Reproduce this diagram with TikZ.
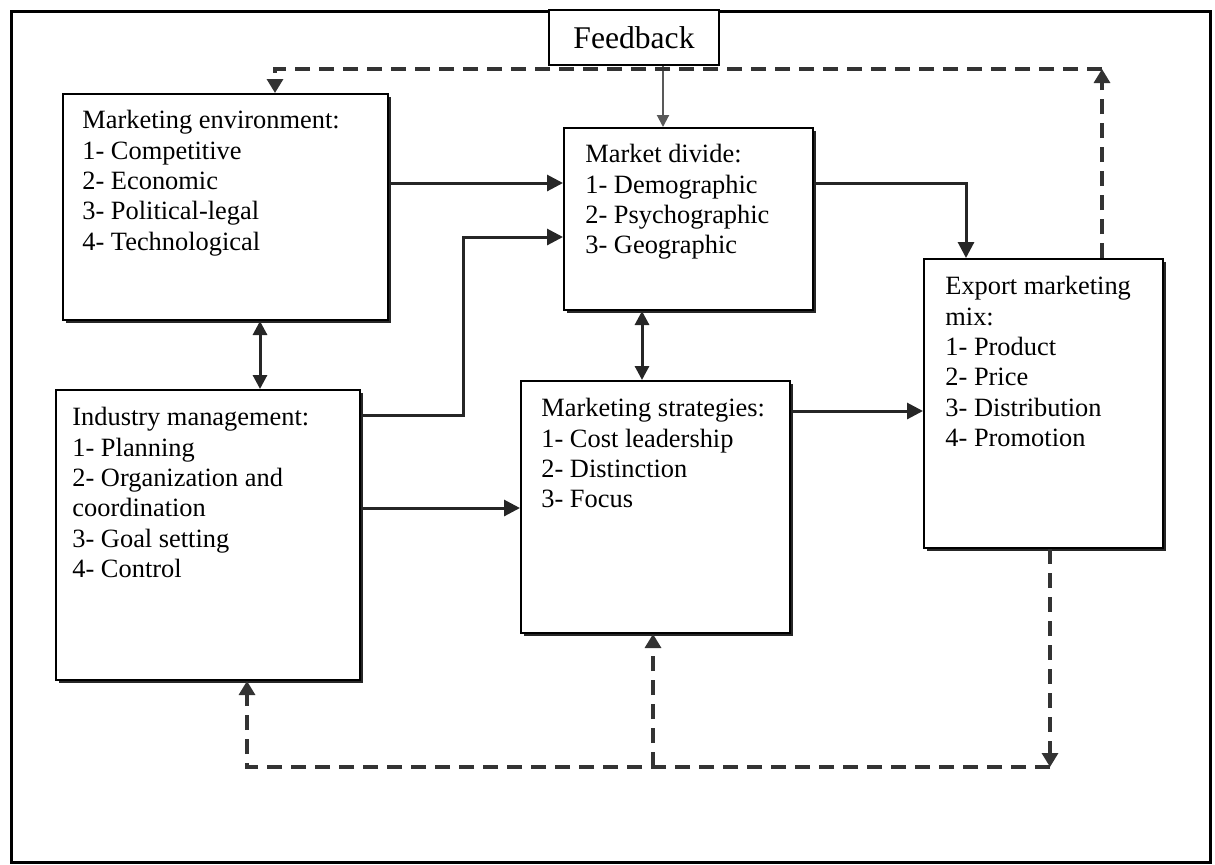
\documentclass[tikz,border=0pt]{standalone}
\usepackage{fontspec}
\setmainfont{Liberation Serif}
\usetikzlibrary{arrows.meta,fit,shadows}
\tikzset{
  box/.style={draw,line width=1pt,fill=white,inner sep=0pt,
    drop shadow={shadow xshift=1.5pt,shadow yshift=-1.5pt,fill=black!85,opacity=1}},
  txt/.style={font=\fontsize{13.2}{15.2}\selectfont,align=left,inner sep=0pt,anchor=north west},
  arr/.style={line width=1.5pt,draw=black!85,-{Triangle[length=8pt,width=8pt]}},
  both/.style={line width=1.5pt,draw=black!85,{Triangle[length=7pt,width=7pt]}-{Triangle[length=7pt,width=7pt]}},
  back/.style={line width=1.6pt,draw=black!80,dash pattern=on 7.5pt off 4.5pt},
  tip/.style={-{Triangle[length=7pt,width=8pt]}}
}
\begin{document}
\begin{tikzpicture}[x=0.5pt,y=-0.5pt]
      \useasboundingbox (0,0) rectangle (1215,864);
      \draw[line width=1.5pt] (11,11) rectangle (1210,862);

      \node[box,fit={(63,94) (388,320)}] (env) {};
      \node[box,fit={(564,128) (813,310)}] (divide) {};
      \node[box,fit={(56,390) (360,680)}] (ind) {};
      \node[box,fit={(521,381) (790,633)}] (strat) {};
      \node[box,fit={(924,259) (1163,548)}] (export) {};
      \node[draw,line width=1pt,fill=white,inner sep=0pt,minimum width=85pt,minimum height=27.5pt,
        font=\fontsize{15.8}{18}\selectfont] (fb) at (634,37.5) {Feedback};

      \node[txt] (envtxt) at ([shift={(10pt,-8.5pt)}]env.north west)
        {Marketing environment:\\1- Competitive\\2- Economic\\3- Political-legal\\4- Technological};
      \node[txt] (dividetxt) at ([shift={(11pt,-8.5pt)}]divide.north west)
        {Market divide:\\1- Demographic\\2- Psychographic\\3- Geographic};
      \node[txt] (indtxt) at ([shift={(8.5pt,-9pt)}]ind.north west)
        {Industry management:\\1- Planning\\2- Organization and\\coordination\\3- Goal setting\\4- Control};
      \node[txt] (strattxt) at ([shift={(10.5pt,-9pt)}]strat.north west)
        {Marketing strategies:\\1- Cost leadership\\2- Distinction\\3- Focus};
      \node[txt] (exporttxt) at ([shift={(11pt,-9pt)}]export.north west)
        {Export marketing\\mix:\\1- Product\\2- Price\\3- Distribution\\4- Promotion};

      \coordinate (fbx) at (663,0);
      \coordinate (bend) at (463,237);
      \coordinate (tr) at (1102,69);
      \coordinate (tl) at (275,69);
      \coordinate (bl) at (247,767);
      \coordinate (bm) at (653,767);
      \coordinate (br) at (1050,767);

      \begin{scope}[arr]
        \draw (env.east |- 0,183) -- (divide.west |- 0,183);
        \draw (ind.east |- 0,415) -| (bend) -- (divide.west |- bend);
        \draw (ind.east |- 0,508) -- (strat.west |- 0,508);
        \draw (divide.east |- 0,183) -| (export.north -| 966,0);
        \draw (strat.east |- 0,411) -- (export.west |- 0,411);
      \end{scope}
      \draw[both] (env.south -| 260,0) -- (ind.north -| 260,0);
      \draw[both] (divide.south -| 642,0) -- (strat.north -| 642,0);
      \draw[line width=1pt,draw=black!65,-{Triangle[length=6pt,width=6pt]}]
        (fb.south -| fbx) -- (divide.north -| fbx);

      \draw[back,tip] (export.north -| tr) -- (tr);
      \draw[back,tip] (tr) -- (tl) -- (env.north -| tl);
      \draw[back,tip] (export.south -| br) -- (br);
      \draw[back,tip] (br) -- (bl) -- (ind.south -| bl);
      \draw[back,tip] (bm) -- (strat.south -| bm);
    \end{tikzpicture}
\end{document}
